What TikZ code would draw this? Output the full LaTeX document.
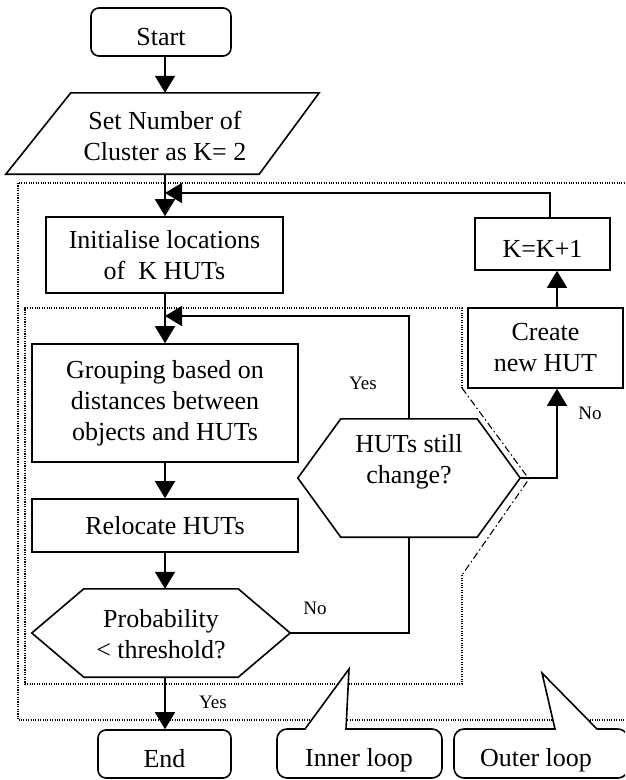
\documentclass[tikz,border=0pt]{standalone}
\usepackage{fontspec}
\setmainfont{Liberation Serif}
\usetikzlibrary{arrows.meta,calc}
\newcommand\mainfnt{\fontsize{26}{31}\selectfont}
\newcommand\lblfnt{\fontsize{19}{22}\selectfont}
\begin{document}
\begin{tikzpicture}[x=1pt,y=-1pt,
  ln/.style={line width=1.6pt},
  arr/.style={ln,-{Triangle[length=17pt,width=20pt]}},
  dots/.style={line width=1.1pt,dash pattern=on 1.1pt off 1.3pt},
  dashdot/.style={line width=1.1pt,dash pattern=on 7pt off 3pt on 1.5pt off 3pt},
  box/.style={draw,ln,align=center,inner sep=0pt,font=\mainfnt},
  low/.style={text height=26pt,text depth=0pt},
  plain/.style={inner sep=0pt,align=center,font=\mainfnt},
  lbl/.style={inner sep=0pt,font=\lblfnt}]
\useasboundingbox (0,0) rectangle (625,780);
\clip (0,0) rectangle (625,780);
\coordinate (ax) at (165,0);
\coordinate (kx) at (550,0);
\coordinate (cx) at (557,0);
\coordinate (fb1) at (165,316);
\coordinate (fb2) at (165,193);
% loop frames
\draw[dots] (18,183) rectangle (640,720);
\draw[dots] (462,388) -- (462,308) -- (25,308) -- (25,684) -- (462,684) -- (462,575);
\draw[dashdot] (462,388) -- (529,479) -- (462,575);
% nodes
\node[box,low,rounded corners=8pt,minimum width=140pt,minimum height=48pt] (start) at (161,32) {Start};
\node[plain,minimum width=200pt,minimum height=81pt] (par) at (165,133.5) {};
\node[plain] (partxt) at (165,136) {Set Number of\\Cluster as K= 2};
\draw[ln] ($(par.south west)+(-59,0)$) -- ($(par.north west)+(6,0)$) -- ($(par.north east)+(54,0)$) -- ($(par.south east)+(-6,0)$) -- cycle;
\node[box,minimum width=237pt,minimum height=76pt] (init) at (164.5,255) {Initialise locations\\of\ \ K HUTs};
\node[box,low,minimum width=135pt,minimum height=52pt] (kk) at (542.5,244) {K=K+1};
\node[box,minimum width=155pt,minimum height=80pt] (create) at (545.5,348) {Create\\new HUT};
\node[box,minimum width=266pt,minimum height=118pt] (group) at (165,403) {Grouping based on\\distances between\\objects and HUTs};
\node[box,minimum width=266pt,minimum height=53pt] (reloc) at (165,525.5) {Relocate HUTs};
\node[plain,minimum width=222pt,minimum height=118pt] (huts) at (409,478) {};
\node[plain] (hutstxt) at (409,462) {HUTs still\\change?};
\draw[ln] (huts.west) -- ($(huts.north west)+(43,0)$) -- ($(huts.north east)+(-43,0)$) -- (huts.east) -- ($(huts.south east)+(-43,0)$) -- ($(huts.south west)+(43,0)$) -- cycle;
\node[plain,minimum width=258pt,minimum height=88pt] (prob) at (161,633) {};
\node[plain] (probtxt) at (161,634) {Probability\\< threshold?};
\draw[ln] (prob.west) -- ($(prob.north west)+(52,0)$) -- ($(prob.north east)+(-52,0)$) -- (prob.east) -- ($(prob.south east)+(-52,0)$) -- ($(prob.south west)+(52,0)$) -- cycle;
\node[box,low,rounded corners=8pt,minimum width=133pt,minimum height=48pt] (end) at (164.5,754) {End};
% connectors
\draw[arr] (start.south -| ax) -- (par.north -| ax);
\draw[arr] (par.south -| ax) -- (init.north -| ax);
\draw[arr] (init.south -| ax) -- (group.north -| ax);
\draw[arr] (group.south -| ax) -- (reloc.north -| ax);
\draw[arr] (reloc.south -| ax) -- (prob.north -| ax);
\draw[arr] (prob.south -| ax) -- (end.north -| ax);
\draw[ln] (prob.east) -- (prob.east -| huts.south) -- (huts.south);
\draw[arr] (huts.north) -- (huts.north |- fb1) -- (fb1);
\draw[arr] (huts.east) -- (huts.east -| cx) -- (create.south -| cx);
\draw[arr] (create.north -| cx) -- (kk.south -| cx);
\draw[arr] (kk.north -| kx) -- (kx |- fb2) -- (fb2);
% labels
\node[lbl] (yes1) at (363,383) {Yes};
\node[lbl] (no1) at (590,413) {No};
\node[lbl] (no2) at (315,608) {No};
\node[lbl] (yes2) at (213,702) {Yes};
% callouts
\draw[ln,fill=white] (290,729) -- (305,729) -- (349,669) -- (346,729) -- (380,729) [rounded corners=10pt] -- (442,729) -- (442,778) -- (277,778) -- (277,729) -- (290,729);
\node[plain] (inner) at (359,760) {Inner loop};
\draw[ln,fill=white] (470,729) -- (555,729) -- (542,673) -- (597,729) -- (605,729) [rounded corners=10pt] -- (628,729) -- (628,778) -- (454,778) -- (454,729) -- (470,729);
\node[plain] (outer) at (536,760) {Outer loop};
\end{tikzpicture}
\end{document}
